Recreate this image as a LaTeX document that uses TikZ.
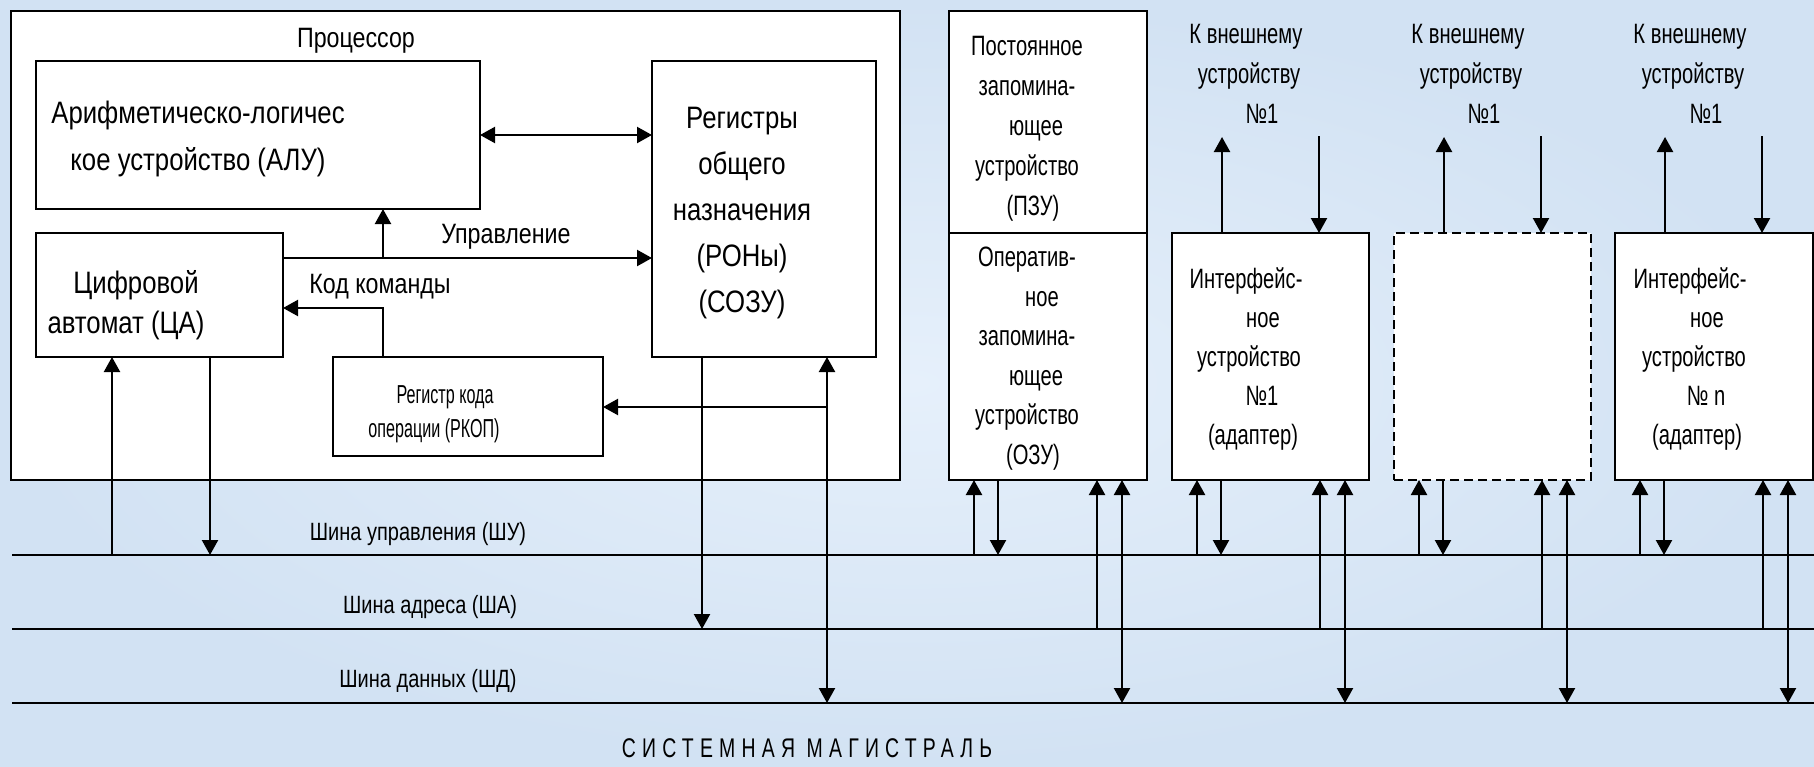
\documentclass[tikz,border=0pt]{standalone}
\usepackage{fontspec}
\setmainfont{Liberation Sans}
\newfontfamily\fA{Liberation Sans}[FakeStretch=0.83]
\newfontfamily\fB{Liberation Sans}[FakeStretch=0.72]
\newfontfamily\fC{Liberation Sans}[FakeStretch=0.8]
\newfontfamily\fD{Liberation Sans}[FakeStretch=0.62]
\newfontfamily\fT{Liberation Sans}[FakeStretch=0.72,LetterSpace=23]
\usetikzlibrary{arrows.meta}
\definecolor{bg}{RGB}{210,226,243}
\definecolor{bgl}{RGB}{230,240,251}
\begin{document}
\begin{tikzpicture}[x=1pt,y=-1pt,
  box/.style={draw, line width=2.5pt, fill=white, inner sep=0pt, outer sep=0pt, anchor=north west},
  dbox/.style={box, dash pattern=on 9pt off 5pt},
  arr/.style={line width=2.2pt, -{Triangle[length=15pt,width=16pt]}},
  arrb/.style={line width=2.2pt, {Triangle[length=15pt,width=16pt]}-{Triangle[length=15pt,width=16pt]}},
  bus/.style={line width=2.5pt},
  txt/.style={align=center, anchor=base, inner sep=0pt},
  tL/.style={txt, font={\fA\fontsize{31}{47}\selectfont}},
  tM/.style={txt, font={\fA\fontsize{28}{40}\selectfont}},
  tR/.style={txt, font={\fB\fontsize{28}{40}\selectfont}},
  tBus/.style={txt, font={\fC\fontsize{25}{30}\selectfont}},
  tSmall/.style={txt, font={\fD\fontsize{26}{34}\selectfont}},
  tTitle/.style={txt, font={\fT\fontsize{27}{30}\selectfont}}
]
% background
\shade[inner color=bgl, outer color=bg] (0,0) rectangle (1814,766);
\useasboundingbox (0,0) rectangle (1814,766);

% processor
\node[box, minimum width=889pt, minimum height=469pt] (proc) at (11,11) {};
\node[tM] (t-proc) at (356,47) {Процессор};
\node[box, minimum width=444pt, minimum height=148pt] (alu) at (36,61) {};
\node[box, minimum width=247pt, minimum height=124pt] (ca) at (36,233) {};
\node[box, minimum width=224pt, minimum height=296pt] (ron) at (652,61) {};
\node[box, minimum width=270pt, minimum height=99pt] (rkop) at (333,357) {};

% base anchor = baseline of the last line
\node[tL] (t-alu) at (198,170) {Арифметическо-логичес\\кое устройство (АЛУ)};
\node[tL, font={\fA\fontsize{31}{40}\selectfont}] (t-ca) at (131,333) {\hspace*{10pt}Цифровой\\автомат (ЦА)\hspace*{10pt}};
\node[tL, font={\fA\fontsize{31}{46}\selectfont}] (t-ron) at (742,312) {Регистры\\общего\\назначения\\(РОНы)\\(СОЗУ)};
\node[tSmall] (t-rkop) at (440,437) {\hspace*{10pt}Регистр кода\\операции (РКОП)\hspace*{12pt}};
\node[tM] (t-upr) at (506,243) {Управление};
\node[tM] (t-kod) at (380,293) {Код команды};

% memory
\node[box, minimum width=198pt, minimum height=222pt] (pzu) at (949,11) {};
\node[box, minimum width=198pt, minimum height=247pt] (ozu) at (949,233) {};
\node[tR] (t-pzu) at (1027,215) {Постоянное\\запомина-\\\hspace*{18pt}ющее\\устройство\\\hspace*{12pt}(ПЗУ)};
\node[tR, font={\fB\fontsize{28}{39.5}\selectfont}] (t-ozu) at (1027,464) {Оператив-\\\hspace*{30pt}ное\\запомина-\\\hspace*{18pt}ющее\\устройство\\\hspace*{12pt}(ОЗУ)};

% interfaces
\node[box, minimum width=197pt, minimum height=247pt] (ifa) at (1172,233) {};
\node[dbox, minimum width=197pt, minimum height=247pt] (ifb) at (1394,233) {};
\node[box, minimum width=198pt, minimum height=247pt] (ifn) at (1615,233) {};
\node[tR, font={\fB\fontsize{28}{39}\selectfont}] (t-ifa) at (1246,444) {Интерфейс-\\\hspace*{34pt}ное\\\hspace*{6pt}устройство\\\hspace*{32pt}№1\\\hspace*{14pt}(адаптер)};
\node[tR, font={\fB\fontsize{28}{39}\selectfont}] (t-ifn) at (1690,444) {Интерфейс-\\\hspace*{34pt}ное\\\hspace*{8pt}устройство\\\hspace*{32pt}№ n\\\hspace*{14pt}(адаптер)};
\node[tR] (t-exa) at (1246,123) {К внешнему\\\hspace*{6pt}устройству\\\hspace*{32pt}№1};
\node[tR] (t-exb) at (1468,123) {К внешнему\\\hspace*{6pt}устройству\\\hspace*{32pt}№1};
\node[tR] (t-exn) at (1690,123) {К внешнему\\\hspace*{6pt}устройству\\\hspace*{32pt}№1};

% buses
\coordinate (shuL) at (12,555);  \coordinate (shuR) at (1814,555);
\coordinate (shaL) at (12,629);  \coordinate (shaR) at (1814,629);
\coordinate (shdL) at (12,703);  \coordinate (shdR) at (1814,703);
\draw[bus] (shuL) -- (shuR);
\draw[bus] (shaL) -- (shaR);
\draw[bus] (shdL) -- (shdR);
\node[tBus] (t-shu) at (418,540) {Шина управления (ШУ)};
\node[tBus] (t-sha) at (430,613) {Шина адреса (ША)};
\node[tBus] (t-shd) at (428,687) {Шина данных (ШД)};
\node[tTitle] (t-title) at (807,757) {СИСТЕМНАЯ МАГИСТРАЛЬ};

% processor connectors
\draw[arrb] (alu.east |- 0,135) -- (ron.west |- 0,135);
\draw[arr] (ca.east |- 0,258) -- (ron.west |- 0,258);
\coordinate (j1) at (383,258);
\draw[arr] (j1) -- (alu.south -| j1);
\draw[arr] (rkop.north -| j1) |- (ca.east |- 0,308);
\coordinate (j2) at (827,407);
\draw[arrb] (j2 |- shdL) -- (ron.south -| j2);
\draw[arr] (j2) -- (rkop.east |- j2);
\draw[arr] (ron.south -| 702,0) -- (702,0 |- shaL);
\draw[arr] (112,0 |- shuL) -- (ca.south -| 112,0);
\draw[arr] (ca.south -| 210,0) -- (210,0 |- shuL);

% block connectors to buses
\foreach \b in {ozu,ifa,ifb,ifn}{
  \path (\b.south west) ++(25,0) coordinate (\b-1)
        (\b.south west) ++(49,0) coordinate (\b-2)
        (\b.south west) ++(148,0) coordinate (\b-3)
        (\b.south west) ++(173,0) coordinate (\b-4);
  \draw[arr] (\b-1 |- shuL) -- (\b-1);
  \draw[arr] (\b-2) -- (\b-2 |- shuL);
  \draw[arr] (\b-3 |- shaL) -- (\b-3);
  \draw[arrb] (\b-4) -- (\b-4 |- shdL);
}
% external connectors
\foreach \b in {ifa,ifb,ifn}{
  \path (\b.north west) ++(50,0) coordinate (\b-u)
        (\b.north west) ++(147,0) coordinate (\b-d);
  \coordinate (\b-ut) at (\b-u |- 0,137);
  \coordinate (\b-dt) at (\b-d |- 0,136);
  \draw[arr] (\b-u) -- (\b-ut);
  \draw[arr] (\b-dt) -- (\b-d);
}
\end{tikzpicture}
\end{document}
